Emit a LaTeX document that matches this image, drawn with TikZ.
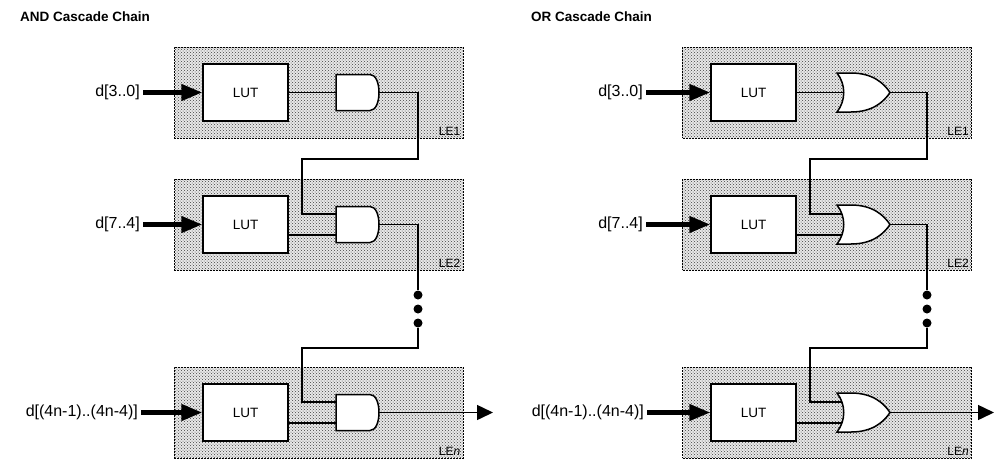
\documentclass[tikz,border=0pt]{standalone}
\usepackage{fontspec}
\setmainfont{Liberation Sans}
\usetikzlibrary{positioning,patterns,arrows.meta}

\tikzset{
  lebox/.style={draw, line width=1pt, dash pattern=on 2pt off 1pt,
    preaction={fill=gray!18}, pattern=crosshatch dots, pattern color=black!75,
    minimum width=289pt, minimum height=91pt, inner sep=0pt},
  lutbox/.style={draw, solid, fill=white, line width=1.5pt,
    minimum width=85pt, minimum height=57pt, font=\fontsize{13.5}{14}\selectfont},
  wire/.style={line width=1.5pt},
  busin/.style={line width=4.5pt, -{Triangle[length=21pt,width=16pt]}},
  busout/.style={line width=1.5pt, -{Triangle[length=16pt,width=15pt]}},
  dinlabel/.style={anchor=east, inner sep=3pt, font=\fontsize{16}{16}\selectfont},
  lelabel/.style={anchor=south east, inner sep=3pt, font=\fontsize{12}{12}\selectfont},
  titlelabel/.style={anchor=west, inner sep=0pt, font=\bfseries\fontsize{13.5}{14}\selectfont},
  chaindot/.style={circle, fill=black, inner sep=0pt, minimum size=9pt},
}

% gate with its input / output points: name, left x, centre y
\newcommand{\andgate}[3]{%
  \draw[wire, fill=white] (#2,#3-18) -- (#2+34,#3-18)
    .. controls (#2+46,#3-18) and (#2+46,#3+18) .. (#2+34,#3+18)
    -- (#2,#3+18) -- cycle;
  \coordinate (#1-a) at (#2,#3-10.5);
  \coordinate (#1-b) at (#2,#3+10.5);
  \coordinate (#1-c) at (#2,#3);
  \coordinate (#1-out) at (#2+43,#3);
}
\newcommand{\orgate}[3]{%
  \draw[wire, fill=white] (#2,#3-19.5) -- (#2+14,#3-19.5)
    .. controls (#2+36,#3-19.5) and (#2+47,#3-9) .. (#2+53,#3)
    .. controls (#2+47,#3+9) and (#2+36,#3+19.5) .. (#2+14,#3+19.5)
    -- (#2,#3+19.5)
    .. controls (#2+9,#3+8) and (#2+9,#3-8) .. cycle;
  \coordinate (#1-a) at (#2+5,#3-10.5);
  \coordinate (#1-b) at (#2+5,#3+10.5);
  \coordinate (#1-c) at (#2+6.75,#3);
  \coordinate (#1-out) at (#2+53,#3);
}

\begin{document}
\begin{tikzpicture}[x=1pt,y=-1pt]
\useasboundingbox (0,0) rectangle (994,459);

% AND chain
\node[titlelabel] (andtitle) at (20,17) {AND Cascade Chain};
\node[lebox] (andle1) at (318.5,92.5) {};
\node[lebox] (andle2) at (318.5,224.5) {};
\node[lebox] (andlen) at (318.5,412.5) {};
\node[lelabel] at (andle1.south east) {LE1};
\node[lelabel] at (andle2.south east) {LE2};
\node[lelabel] at (andlen.south east) {LE\textit{n}};
\node[lutbox] (andlut1) at (245.5,92.5) {LUT};
\node[lutbox] (andlut2) at (245.5,224.5) {LUT};
\node[lutbox] (andlutn) at (245.5,412.5) {LUT};
\andgate{andg1}{336}{92.5}
\andgate{andg2}{336}{224.5}
\andgate{andgn}{336}{412.5}

\coordinate (andin1) at (143,92.5);
\coordinate (andin2) at (143,224.5);
\coordinate (andinn) at (141,412.5);
\node[dinlabel] (andd1) at (andin1) {d[3..0]};
\node[dinlabel] (andd2) at (andin2) {d[7..4]};
\node[dinlabel] (anddn) at (andinn) {d[(4n-1)..(4n-4)]};
\draw[busin] (andd1.east) -- (andlut1.west);
\draw[busin] (andd2.east) -- (andlut2.west);
\draw[busin] (anddn.east) -- (andlutn.west);

\draw[wire] (andlut1.east) -- (andg1-c);
\draw[wire] (andlut2.east |- andg2-b) -- (andg2-b);
\draw[wire] (andlutn.east |- andgn-b) -- (andgn-b);

\coordinate (andr1) at (418,159);
\coordinate (andl1) at (302,159);
\draw[wire] (andg1-out) -| (andr1) -- (andl1) |- (andg2-a);
\node[chaindot] (anddot1) at (418,295) {};
\node[chaindot] (anddot2) at (418,309) {};
\node[chaindot] (anddot3) at (418,323) {};
\draw[wire] (andg2-out) -| (anddot1);
\coordinate (andr2) at (418,348);
\coordinate (andl2) at (302,348);
\draw[wire] (anddot3) -- (andr2) -- (andl2) |- (andgn-a);
\coordinate (andout) at (493,412.5);
\draw[busout] (andgn-out) -- (andout);

% OR chain
\node[titlelabel] (ortitle) at (531,17) {OR Cascade Chain};
\node[lebox] (orle1) at (827,92.5) {};
\node[lebox] (orle2) at (827,224.5) {};
\node[lebox] (orlen) at (827,412.5) {};
\node[lelabel] at (orle1.south east) {LE1};
\node[lelabel] at (orle2.south east) {LE2};
\node[lelabel] at (orlen.south east) {LE\textit{n}};
\node[lutbox] (orlut1) at (753.5,92.5) {LUT};
\node[lutbox] (orlut2) at (753.5,224.5) {LUT};
\node[lutbox] (orlutn) at (753.5,412.5) {LUT};
\orgate{org1}{837}{92.5}
\orgate{org2}{837}{224.5}
\orgate{orgn}{837}{412.5}

\coordinate (orin1) at (646,92.5);
\coordinate (orin2) at (646,224.5);
\coordinate (orinn) at (647,412.5);
\node[dinlabel] (ord1) at (orin1) {d[3..0]};
\node[dinlabel] (ord2) at (orin2) {d[7..4]};
\node[dinlabel] (ordn) at (orinn) {d[(4n-1)..(4n-4)]};
\draw[busin] (ord1.east) -- (orlut1.west);
\draw[busin] (ord2.east) -- (orlut2.west);
\draw[busin] (ordn.east) -- (orlutn.west);

\draw[wire] (orlut1.east) -- (org1-c);
\draw[wire] (orlut2.east |- org2-b) -- (org2-b);
\draw[wire] (orlutn.east |- orgn-b) -- (orgn-b);

\coordinate (orr1) at (927,159);
\coordinate (orl1) at (810,159);
\draw[wire] (org1-out) -| (orr1) -- (orl1) |- (org2-a);
\node[chaindot] (ordot1) at (927,295) {};
\node[chaindot] (ordot2) at (927,309) {};
\node[chaindot] (ordot3) at (927,323) {};
\draw[wire] (org2-out) -| (ordot1);
\coordinate (orr2) at (927,348);
\coordinate (orl2) at (810,348);
\draw[wire] (ordot3) -- (orr2) -- (orl2) |- (orgn-a);
\coordinate (orout) at (994,412.5);
\draw[busout] (orgn-out) -- (orout);
\end{tikzpicture}
\end{document}
